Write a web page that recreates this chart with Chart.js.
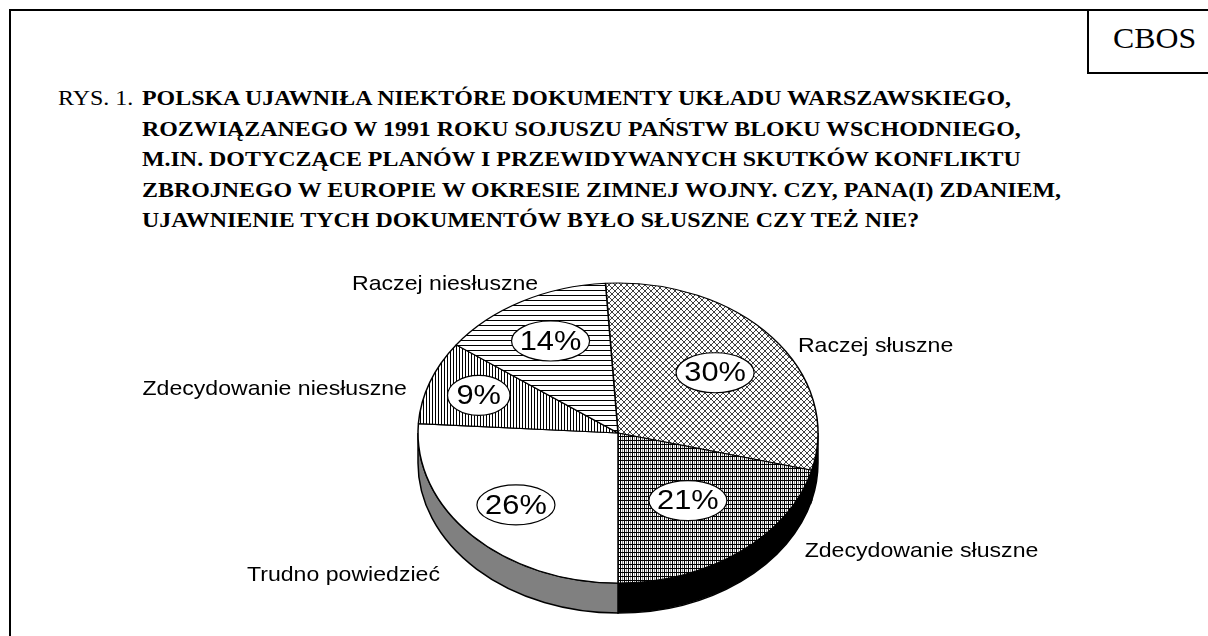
<!DOCTYPE html>
<html>
<head>
<meta charset="utf-8">
<script src="https://cdn.jsdelivr.net/npm/chart.js@4.4.1/dist/chart.umd.min.js"></script>
<style>
  body { margin: 0; width: 1208px; height: 636px; overflow: hidden; background: #fff; position: relative; }
  .frame { position: absolute; left: 9px; top: 9px; width: 1300px; height: 700px; border: 2px solid #000; }
  .cbos { position: absolute; left: 1087px; top: 9px; width: 200px; height: 63px; border-left: 2px solid #000; border-bottom: 2px solid #000; }
  .cbos span { position: absolute; left: 24px; top: 12px; font: 30px "Liberation Serif", "Times New Roman", serif; transform: scaleX(1.06); transform-origin: left; }
  .rys { position: absolute; left: 58px; top: 83px; font: 22px/30.6px "Liberation Serif", "Times New Roman", serif; transform: scaleX(1.09); transform-origin: left top; }
  .question { position: absolute; left: 142px; top: 83px; font: bold 22px/30.6px "Liberation Serif", "Times New Roman", serif; white-space: nowrap; transform: scaleX(1.087); transform-origin: left top; }
  #pie { position: absolute; left: 0; top: 0; }
</style>
</head>
<body>
<div class="frame"></div>
<div class="cbos"><span>CBOS</span></div>
<div class="rys">RYS. 1.</div>
<div class="question">
  POLSKA UJAWNIŁA NIEKTÓRE DOKUMENTY UKŁADU WARSZAWSKIEGO,<br>
  ROZWIĄZANEGO W 1991 ROKU SOJUSZU PAŃSTW BLOKU WSCHODNIEGO,<br>
  M.IN. DOTYCZĄCE PLANÓW I PRZEWIDYWANYCH SKUTKÓW KONFLIKTU<br>
  ZBROJNEGO W EUROPIE W OKRESIE ZIMNEJ WOJNY. CZY, PANA(I) ZDANIEM,<br>
  UJAWNIENIE TYCH DOKUMENTÓW BYŁO SŁUSZNE CZY TEŻ NIE?
</div>
<canvas id="pie" width="1208" height="636"></canvas>
<script>
// data
const categories = ["Raczej słuszne", "Zdecydowanie słuszne", "Trudno powiedzieć", "Zdecydowanie niesłuszne", "Raczej niesłuszne"];
const values = [30, 21, 26, 9, 14];

// 3d look
const squash = 0.75;
const depth = 30;
const stretchX = 1.1; // the reference text is a bit wide
const sideColors = ["#000000", "#000000", "#808080", "#808080", "#808080"];
// where the % bubbles sit (fraction of radius) and where the names go ([angle deg, radius fraction, align])
const bubbleRadius = [0.63, 0.57, 0.7, 0.74, 0.7];
const labelAnchors = [[-32.8, 1.07, "left"], [40.1, 1.22, "left"], [133.2, 1.3, "right"], [195.5, 1.095, "right"], [248.1, 1.07, "right"]];

function makePattern(w, h, paint) {
  const c = document.createElement("canvas");
  c.width = w; c.height = h;
  const g = c.getContext("2d");
  g.fillStyle = "#fff";
  g.fillRect(0, 0, w, h);
  g.fillStyle = "#000";
  paint(g);
  return g.createPattern(c, "repeat");
}

const patterns = [
  makePattern(6, 6, g => { // diagonal lattice, looks like small diamonds
    g.fillStyle = "#404040";
    for (let i = 0; i < 6; i++) { g.fillRect(i, i, 1, 1); g.fillRect(5 - i, i, 1, 1); }
  }),
  makePattern(4, 4, g => {
    g.fillRect(0, 0, 1, 4);
    g.fillRect(0, 0, 4, 1);
    g.fillStyle = "#909090";
    g.fillRect(2, 1, 1, 3);
  }),
  null,
  makePattern(3, 1, g => { g.fillRect(0, 0, 1, 1); }),
  makePattern(1, 5, g => { g.fillRect(0, 0, 1, 1); })
];
const fills = patterns.map(p => p || "#ffffff");

function wideText(ctx, text, x, y, align) {
  const w = ctx.measureText(text).width * stretchX;
  const left = align === "left" ? x : align === "right" ? x - w : x - w / 2;
  ctx.save();
  ctx.textAlign = "left";
  ctx.translate(left, y);
  ctx.scale(stretchX, 1);
  ctx.fillText(text, 0, 0);
  ctx.restore();
}

const pie3d = {
  id: "pie3d",
  beforeDatasetsDraw(chart) {
    const ctx = chart.ctx;
    const arcs = chart.getDatasetMeta(0).data;
    const { x: cx, y: cy, outerRadius: r } = arcs[0].getProps(["x", "y", "outerRadius"]);
    const ry = r * squash;
    // side walls of the front half
    ctx.save();
    ctx.lineWidth = 1.5;
    ctx.strokeStyle = "#000";
    arcs.forEach((el, i) => {
      const { startAngle: s, endAngle: e } = el.getProps(["startAngle", "endAngle"]);
      for (let k = -1; k <= 1; k++) {
        const lo = Math.max(s, 2 * Math.PI * k);
        const hi = Math.min(e, 2 * Math.PI * k + Math.PI);
        if (hi <= lo) continue;
        ctx.beginPath();
        ctx.ellipse(cx, cy, r, ry, 0, lo, hi, false);
        ctx.ellipse(cx, cy + depth, r, ry, 0, hi, lo, true);
        ctx.closePath();
        ctx.fillStyle = sideColors[i];
        ctx.fill();
        ctx.stroke();
      }
    });
    ctx.restore();
    // keep hatching crisp and unsquashed
    patterns.forEach(p => {
      if (p) p.setTransform(new DOMMatrix([1, 0, 0, 1 / squash, 0, -cy * (1 - squash) / squash]));
    });
    ctx.save();
    ctx.translate(cx, cy);
    ctx.scale(1, squash);
    ctx.translate(-cx, -cy);
  },
  afterDatasetsDraw(chart) {
    const ctx = chart.ctx;
    ctx.restore();
    const arcs = chart.getDatasetMeta(0).data;
    ctx.save();
    ctx.fillStyle = "#000";
    ctx.textBaseline = "middle";
    arcs.forEach((el, i) => {
      const { x: cx, y: cy, startAngle: s, endAngle: e, outerRadius: r } =
        el.getProps(["x", "y", "startAngle", "endAngle", "outerRadius"]);
      const mid = (s + e) / 2;
      // percent bubble
      const bx = cx + Math.cos(mid) * r * bubbleRadius[i];
      const by = cy + Math.sin(mid) * r * bubbleRadius[i] * squash;
      const txt = values[i] + "%";
      ctx.font = '28px "Liberation Sans", Arial, sans-serif';
      const tw = ctx.measureText(txt).width;
      ctx.beginPath();
      ctx.ellipse(bx, by, tw / 2 + 11, 20, 0, 0, Math.PI * 2);
      ctx.fillStyle = "#fff";
      ctx.fill();
      ctx.lineWidth = 1.2;
      ctx.strokeStyle = "#000";
      ctx.stroke();
      ctx.fillStyle = "#000";
      wideText(ctx, txt, bx, by + 1, "center");
      // category name
      const [deg, f, align] = labelAnchors[i];
      const a = deg * Math.PI / 180;
      ctx.font = '21px "Liberation Sans", Arial, sans-serif';
      wideText(ctx, categories[i], cx + Math.cos(a) * r * f, cy + Math.sin(a) * r * f * squash, align);
    });
    ctx.restore();
  }
};

new Chart(document.getElementById("pie").getContext("2d"), {
  type: "pie",
  data: {
    labels: categories,
    datasets: [{
      data: values,
      backgroundColor: fills,
      borderColor: "#000",
      borderWidth: 1.5,
      clip: false
    }]
  },
  options: {
    responsive: false,
    animation: false,
    events: [],
    radius: 200,
    rotation: -3.6,
    layout: { padding: { left: 418, right: 390, top: 233, bottom: 3 } },
    plugins: { legend: { display: false }, tooltip: { enabled: false } }
  },
  plugins: [pie3d]
});
</script>
</body>
</html>
